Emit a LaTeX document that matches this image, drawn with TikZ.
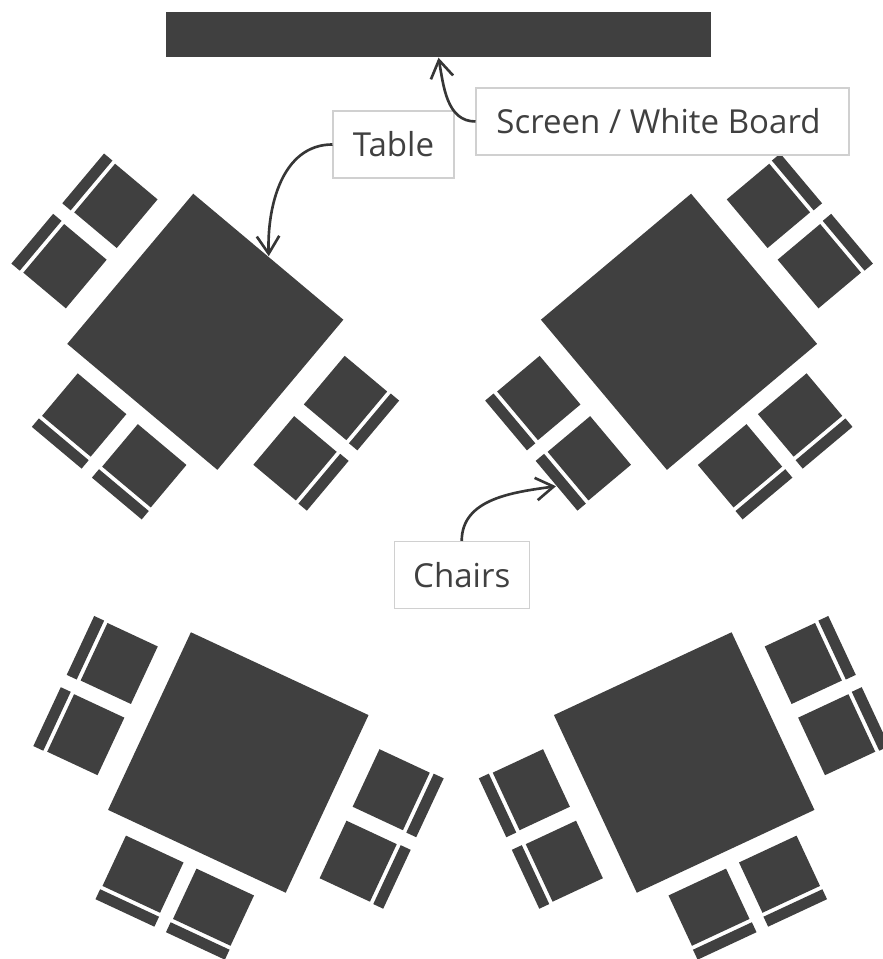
\documentclass[tikz,border=0pt]{standalone}
\usepackage{fontspec}
\setmainfont{Open Sans}
\usepackage{xcolor}
\usetikzlibrary{positioning, arrows.meta, calc}
\definecolor{FurnGray}{RGB}{64,64,64}
\definecolor{BoxGray}{RGB}{208,208,208}

\tikzset{
  furn/.style={rectangle, fill=FurnGray, inner sep=0pt},
  tablebox/.style={furn, minimum width=1.96cm, minimum height=1.96cm},
  seat/.style={furn, minimum width=0.555cm, minimum height=0.635cm},
  backrest/.style={furn, minimum width=0.11cm, minimum height=0.65cm},
  labelbox/.style={rectangle, draw=BoxGray, line width=0.3pt, fill=white,
                   minimum height=0.67cm, inner sep=0pt, text=FurnGray,
                   font=\fontsize{9.4}{11}\selectfont},
  callout/.style={-{Straight Barb[length=5pt, width=6.4pt]}, FurnGray!85!black,
                  line width=0.75pt}
}

% seat and back of one chair: name, x, y, angle
\newcommand{\chair}[4]{%
  \node[seat, rotate=#4] (#1) at (#2,#3) {};
  \node[backrest, rotate=#4, anchor=east] (#1back)
        at ($(#1.west)+(#4+180:0.026)$) {};
}

\begin{document}
\begin{tikzpicture}
  \useasboundingbox (0,0) rectangle (8.82,9.59);

  \node[furn, minimum width=5.45cm, minimum height=0.45cm] (screen) at (4.385,9.245) {};

  % Top left
  \node[tablebox, rotate=-40] (tableA) at (2.053,6.272) {};
  \chair{chairA1}{1.159}{7.531}{-40}
  \chair{chairA2}{0.650}{6.928}{-40}
  \chair{chairA3}{0.842}{5.440}{50}
  \chair{chairA4}{1.443}{4.932}{50}
  \chair{chairA5}{3.455}{5.610}{140}
  \chair{chairA6}{2.950}{5.007}{140}

  % Top right
  \node[tablebox, rotate=40] (tableB) at (6.790,6.272) {};
  \chair{chairB1}{7.684}{7.531}{-140}
  \chair{chairB2}{8.193}{6.928}{-140}
  \chair{chairB3}{8.001}{5.440}{130}
  \chair{chairB4}{7.400}{4.932}{130}
  \chair{chairB5}{5.388}{5.610}{40}
  \chair{chairB6}{5.893}{5.007}{40}

  % Bottom left
  \node[tablebox, rotate=-25] (tableC) at (2.383,1.965) {};
  \chair{chairC1}{1.192}{2.955}{-25}
  \chair{chairC2}{0.858}{2.243}{-25}
  \chair{chairC3}{1.430}{0.848}{65}
  \chair{chairC4}{2.135}{0.518}{65}
  \chair{chairC5}{3.912}{1.693}{155}
  \chair{chairC6}{3.582}{0.978}{155}

  % Bottom right
  \node[tablebox, rotate=25] (tableD) at (6.842,1.965) {};
  \chair{chairD1}{8.033}{2.955}{-155}
  \chair{chairD2}{8.367}{2.243}{-155}
  \chair{chairD3}{7.795}{0.848}{115}
  \chair{chairD4}{7.090}{0.518}{115}
  \chair{chairD5}{5.313}{1.693}{25}
  \chair{chairD6}{5.643}{0.978}{25}

  % Labels
  \node[labelbox, minimum width=1.21cm] (tableLabel) at (3.935,8.145) {Table};
  \node[labelbox, minimum width=3.73cm] (screenLabel) at (6.625,8.375)
        {Screen / White Board\kern0.08cm};
  \node[labelbox, minimum width=1.35cm] (chairsLabel) at (4.617,3.840) {Chairs};

  \draw[callout] (screenLabel.west) to[out=180, in=-80] (screen.south);
  \draw[callout] (tableLabel.west) to[out=180, in=92] (tableA.north);
  \draw[callout] (chairsLabel.north) to[out=90, in=188] (chairB6back.west);
\end{tikzpicture}
\end{document}
